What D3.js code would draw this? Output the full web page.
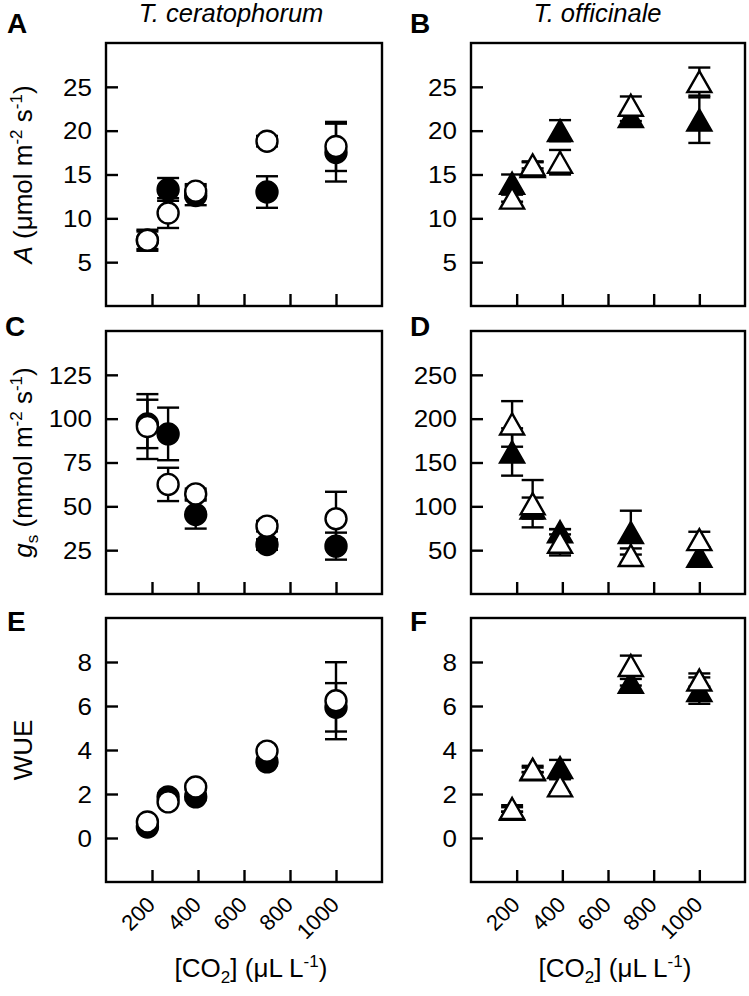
<!DOCTYPE html>
<html><head><meta charset="utf-8">
<script src="https://cdn.jsdelivr.net/npm/d3@7"></script>
<style>
body{margin:0;background:#fff}
svg{display:block}
text{font-family:"Liberation Sans",Arial,Helvetica,sans-serif;fill:#000}
</style>
</head><body>
<svg id="chart" width="749" height="996"></svg>
<script>
// ---------- data ----------
const co2 = [180, 270, 390, 700, 1000];
const xTickValues = [200, 400, 600, 800, 1000];

// A: T. ceratophorum, net assimilation
const aFilled    = [7.5, 13.3, 12.6, 13.0, 17.5];
const aFilledErr = [1.0, 1.3, 1.1, 1.8, 3.3];
const aOpen      = [7.5, 10.6, 13.1, 18.8, 18.2];
const aOpenErr   = [1.2, 1.7, 0.8, 0.6, 2.8];
// B: T. officinale, net assimilation
const bFilled    = [14.0, 15.9, 20.0, 21.6, 21.2];
const bFilledErr = [1.0, 0.5, 1.2, 0.5, 2.6];
const bOpen      = [12.3, 16.1, 16.4, 22.9, 25.6];
const bOpenErr   = [0.4, 0.4, 1.4, 1.0, 1.6];
// C: T. ceratophorum, stomatal conductance
const cFilled    = [97, 91.3, 45.3, 28.2, 27.3];
const cFilledErr = [13.8, 15, 8, 3, 7.7];
const cOpen      = [95.5, 62.5, 57.1, 38.7, 42.9];
const cOpenErr   = [18.5, 9.5, 3, 3, 15.4];
// D: T. officinale, stomatal conductance
const dFilled    = [162, 98, 71, 70, 43];
const dFilledErr = [27, 12, 3, 25, 10];
const dOpen      = [194, 103, 59, 44, 62];
const dOpenErr   = [26, 27, 15, 8, 9];
// E: T. ceratophorum, WUE
const eFilled    = [0.5, 1.87, 1.87, 3.46, 5.94];
const eFilledErr = [0.1, 0.15, 0.15, 0.15, 1.1];
const eOpen      = [0.73, 1.64, 2.32, 3.95, 6.24];
const eOpenErr   = [0.1, 0.1, 0.15, 0.1, 1.75];
// F: T. officinale, WUE
const fFilled    = [1.3, 3.1, 3.2, 7.08, 6.7];
const fFilledErr = [0.1, 0.1, 0.35, 0.15, 0.6];
const fOpen      = [1.34, 3.13, 2.37, 7.84, 7.18];
const fOpenErr   = [0.15, 0.15, 0.3, 0.45, 0.3];

const yTicksA = [5, 10, 15, 20, 25];
const yTicksC = [25, 50, 75, 100, 125];
const yTicksD = [50, 100, 150, 200, 250];
const yTicksE = [0, 2, 4, 6, 8];

const speciesTitles = ["T. ceratophorum", "T. officinale"];
const panelLetters = ["A", "B", "C", "D", "E", "F"];

// ---------- layout ----------
const svg = d3.select("#chart");
const cols = [{x0: 106, x1: 382}, {x0: 471, x1: 745}];
const rows = [{y0: 43, y1: 306}, {y0: 331, y1: 594}, {y0: 618, y1: 882}];
const xDomain = [0, 1200];
const SW = 2.4;

const panels = [
  {col:0,row:0,dom:[0,30],ticks:yTicksA,f:aFilled,fe:aFilledErr,o:aOpen,oe:aOpenErr,m:"circle"},
  {col:1,row:0,dom:[0,30],ticks:yTicksA,f:bFilled,fe:bFilledErr,o:bOpen,oe:bOpenErr,m:"tri"},
  {col:0,row:1,dom:[0,150],ticks:yTicksC,f:cFilled,fe:cFilledErr,o:cOpen,oe:cOpenErr,m:"circle"},
  {col:1,row:1,dom:[0,300],ticks:yTicksD,f:dFilled,fe:dFilledErr,o:dOpen,oe:dOpenErr,m:"tri"},
  {col:0,row:2,dom:[-2,10],ticks:yTicksE,f:eFilled,fe:eFilledErr,o:eOpen,oe:eOpenErr,m:"circle"},
  {col:1,row:2,dom:[-2,10],ticks:yTicksE,f:fFilled,fe:fFilledErr,o:fOpen,oe:fOpenErr,m:"tri"}
];

const triW = 24, triH = 21;
const triPath = `M0,${-triH/2}L${triW/2},${triH/2}L${-triW/2},${triH/2}Z`;

function drawPanel(p) {
  const c = cols[p.col], r = rows[p.row];
  const x = d3.scaleLinear().domain(xDomain).range([c.x0, c.x1]);
  const y = d3.scaleLinear().domain(p.dom).range([r.y1, r.y0]);
  const g = svg.append("g");

  // x axis (ticks inward)
  const gx = g.append("g").attr("transform", `translate(0,${r.y1})`)
    .call(d3.axisBottom(x).tickValues(xTickValues).tickFormat(d3.format("d"))
      .tickSizeInner(-12).tickSizeOuter(0));
  gx.select(".domain").remove();
  gx.selectAll(".tick line").attr("stroke", "#000").attr("stroke-width", SW);
  if (p.row === 2) {
    gx.selectAll(".tick text")
      .attr("x", 0).attr("y", 0).attr("dy", 0)
      .attr("transform", "translate(4,24) rotate(-45)")
      .attr("text-anchor", "end")
      .attr("font-size", 22)
      .attr("font-family", "Liberation Sans, Arial, sans-serif")
      .attr("fill", "#000");
  } else {
    gx.selectAll(".tick text").remove();
  }

  // y axis (ticks inward)
  const sx = 1.13;
  const gy = g.append("g").attr("transform", `translate(${c.x0},0)`)
    .call(d3.axisLeft(y).tickValues(p.ticks).tickFormat(d3.format("d"))
      .tickSizeInner(-12).tickSizeOuter(0));
  gy.select(".domain").remove();
  gy.selectAll(".tick line").attr("stroke", "#000").attr("stroke-width", SW);
  gy.selectAll(".tick text")
    .attr("x", -14 / sx).attr("dy", "0.36em")
    .attr("transform", `scale(${sx},1)`)
    .attr("text-anchor", "end")
    .attr("font-size", 23)
    .attr("font-family", "Liberation Sans, Arial, sans-serif")
    .attr("fill", "#000");

  // frame
  g.append("rect")
    .attr("x", c.x0).attr("y", r.y0)
    .attr("width", c.x1 - c.x0).attr("height", r.y1 - r.y0)
    .attr("fill", "none").attr("stroke", "#000").attr("stroke-width", SW);

  // error bars
  const capW = 11;
  const series = [{v: p.f, e: p.fe, filled: true}, {v: p.o, e: p.oe, filled: false}];
  const eb = g.append("g").attr("stroke", "#000").attr("stroke-width", SW).attr("fill", "none");
  series.forEach(s => {
    co2.forEach((xv, i) => {
      const cx = x(xv), lo = y(s.v[i] - s.e[i]), hi = y(s.v[i] + s.e[i]);
      eb.append("line").attr("x1", cx).attr("x2", cx).attr("y1", lo).attr("y2", hi);
      eb.append("line").attr("x1", cx - capW).attr("x2", cx + capW).attr("y1", lo).attr("y2", lo);
      eb.append("line").attr("x1", cx - capW).attr("x2", cx + capW).attr("y1", hi).attr("y2", hi);
    });
  });

  // markers: filled first, open on top
  series.forEach(s => {
    const mg = g.append("g");
    co2.forEach((xv, i) => {
      const cx = x(xv), cy = y(s.v[i]);
      if (p.m === "circle") {
        mg.append("circle").attr("cx", cx).attr("cy", cy).attr("r", 10.5)
          .attr("fill", s.filled ? "#000" : "#fff").attr("stroke", "#000").attr("stroke-width", SW);
      } else {
        mg.append("path").attr("d", triPath).attr("transform", `translate(${cx},${cy})`)
          .attr("fill", s.filled ? "#000" : "#fff").attr("stroke", "#000").attr("stroke-width", SW)
          .attr("stroke-linejoin", "miter");
      }
    });
  });
}
panels.forEach(drawPanel);

// ---------- texts ----------
function richText(sel, parts, baseSize) {
  let shift = 0;
  parts.forEach(pt => {
    const [txt, kind, style] = pt;
    const t = sel.append("tspan").text(txt);
    let target = 0;
    if (kind === "sup") { target = -10; t.attr("font-size", 17); }
    else if (kind === "sub") { target = 6; t.attr("font-size", 17); }
    else { t.attr("font-size", baseSize); }
    t.attr("dy", target - shift);
    shift = target;
    if (style === "i") t.attr("font-style", "italic");
  });
}

// species titles
svg.append("text").attr("x", 231).attr("y", 22).attr("text-anchor", "middle")
  .attr("font-size", 25.5).attr("font-style", "italic").text(speciesTitles[0]);
svg.append("text").attr("x", 597.5).attr("y", 22).attr("text-anchor", "middle")
  .attr("font-size", 25.5).attr("font-style", "italic").text(speciesTitles[1]);

// panel letters
const letterPos = [[7,33],[410,33],[5,336],[410,336],[7,631],[410,631]];
panelLetters.forEach((L, i) => {
  svg.append("text").attr("x", letterPos[i][0]).attr("y", letterPos[i][1])
    .attr("font-size", 28).attr("font-weight", "bold").text(L);
});

// y-axis labels
const yLab = [
  {cy: (rows[0].y0 + rows[0].y1) / 2, parts: [["A", "n", "i"], [" (\u03bcmol m", "n"], ["-2", "sup"], [" s", "n"], ["-1", "sup"], [")", "n"]]},
  {cy: (rows[1].y0 + rows[1].y1) / 2, parts: [["g", "n", "i"], ["s", "sub"], [" (mmol m", "n"], ["-2", "sup"], [" s", "n"], ["-1", "sup"], [")", "n"]]},
  {cy: (rows[2].y0 + rows[2].y1) / 2, parts: [["WUE", "n"]]}
];
yLab.forEach(l => {
  const t = svg.append("text").attr("text-anchor", "middle")
    .attr("transform", `translate(32,${l.cy}) rotate(-90)`).attr("font-size", 26);
  richText(t, l.parts, 26);
});

// x-axis titles
const xTitleParts = [["[CO", "n"], ["2", "sub"], ["] (\u03bcL L", "n"], ["-1", "sup"], [")", "n"]];
cols.forEach(c => {
  const t = svg.append("text").attr("text-anchor", "middle")
    .attr("x", (c.x0 + c.x1) / 2 + 7).attr("y", 977).attr("font-size", 26);
  richText(t, xTitleParts, 26);
});
</script>
</body></html>
